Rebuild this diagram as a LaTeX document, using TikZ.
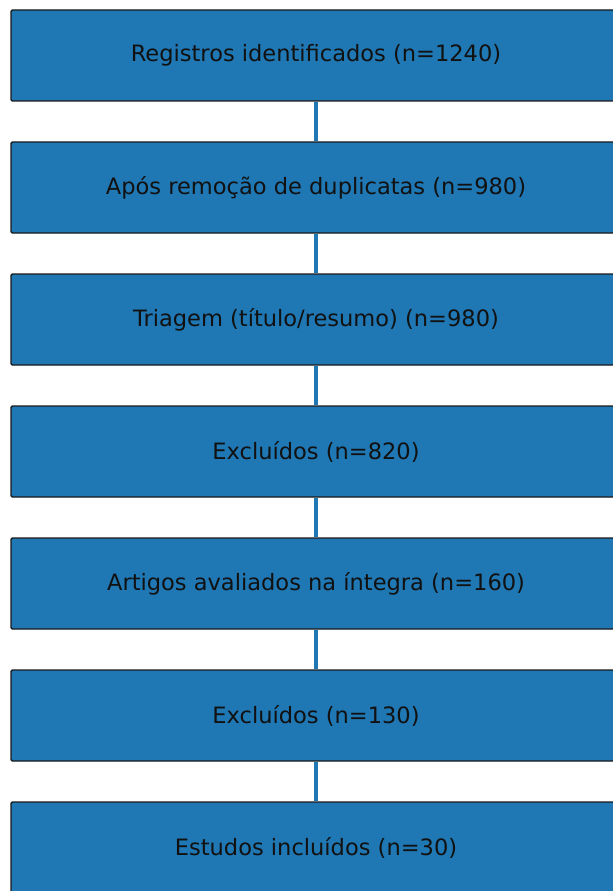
\documentclass[tikz,border=0pt]{standalone}
\usepackage{fontspec}
\setsansfont{DejaVu Sans}
\usetikzlibrary{arrows.meta, positioning}
\definecolor{cblue}{HTML}{1F77B4}
\definecolor{cedge}{HTML}{1A1A1A}
\definecolor{ctext}{HTML}{111111}
\tikzset{
  every picture/.style={font=\sffamily, line width=1.1pt},
  stage/.style={draw=cedge, fill=cblue, text=ctext, rounded corners=1pt, align=center,
    minimum width=457.5pt, minimum height=68.25pt, inner sep=0pt, font=\sffamily\fontsize{16.9}{19}\selectfont},
  link/.style={draw=cblue, line width=2.4pt},
}
\begin{document}
\begin{tikzpicture}[x=0.75pt, y=-0.75pt]
  \clip (0, 0) rectangle (613, 891);
  \node[stage] (ident) at (316, 55.5) {Registros identificados (n=1240)};
  \node[stage] (dedup) at (316, 187.5) {Após remoção de duplicatas (n=980)};
  \node[stage] (triag) at (316, 319.5) {Triagem (título/resumo) (n=980)};
  \node[stage] (excla) at (316, 451.5) {Excluídos (n=820)};
  \node[stage] (integ) at (316, 583.5) {Artigos avaliados na íntegra (n=160)};
  \node[stage] (exclb) at (316, 715.5) {Excluídos (n=130)};
  \node[stage] (incl) at (316, 847.5) {Estudos incluídos (n=30)};
  \foreach \a/\b in {ident/dedup, dedup/triag, triag/excla, excla/integ, integ/exclb, exclb/incl} \draw[link] (\a) -- (\b);
\end{tikzpicture}
\end{document}
